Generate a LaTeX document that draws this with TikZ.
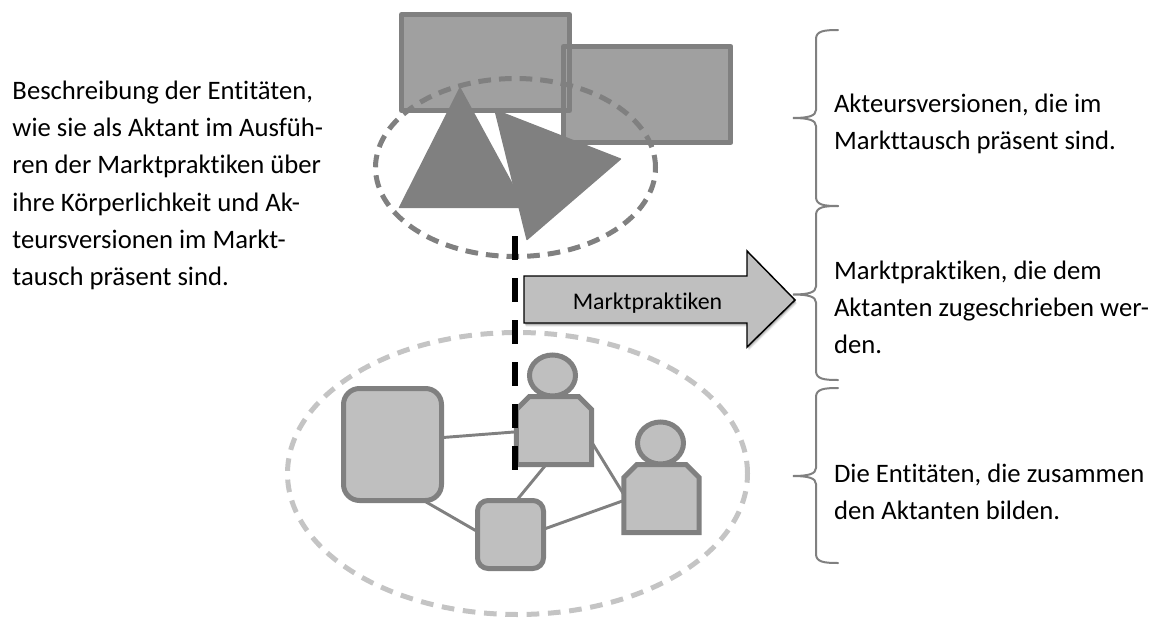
\documentclass[tikz,border=0pt]{standalone}
\usepackage{fontspec}
\setmainfont[Ligatures=NoCommon]{Carlito}
\usetikzlibrary{shapes.geometric,calc}
\definecolor{darkg}{HTML}{808080}
\definecolor{midg}{HTML}{A0A0A0}
\definecolor{lightg}{HTML}{BFBFBF}
\definecolor{paleg}{HTML}{C4C4C4}
\tikzset{
  topbox/.style={rectangle,draw=darkg,fill=midg,line width=3.75pt,line join=round,outer sep=0pt,inner sep=0pt},
  orbit/.style={ellipse,draw,fill=none,line width=3.75pt,outer sep=0pt,inner sep=0pt},
  roundbox/.style={rectangle,rounded corners=#1,draw=darkg,fill=lightg,line width=3.75pt,outer sep=0pt,inner sep=0pt},
  headshape/.style={ellipse,draw=darkg,fill=lightg,line width=3.75pt,outer sep=0pt,inner sep=0pt},
  bodyshape/.style={rectangle,outer sep=0pt,inner sep=0pt,minimum width=56.5pt,minimum height=51pt},
  bodyline/.style={draw=darkg,fill=lightg,line width=3.75pt,line join=miter},
  link/.style={draw=darkg,line width=2.2pt},
  bracepath/.style={draw=darkg,line width=1.5pt,line cap=round},
  txt/.style={anchor=north west,inner sep=0pt,outer sep=0pt,align=left,font=\fontsize{20}{28}\selectfont},
  pointer/.style={draw=black,line width=1.1pt,fill=lightg,line join=miter}
}
\newcommand\bracedraw[3]{% top, mid, bottom
  \path[bracepath] (838,#1) .. controls (824,#1) and (816,#1+1) .. (816,#1+9) -- (816,#2-8)
    .. controls (816,#2-2) and (808,#2) .. (793,#2) .. controls (808,#2) and (816,#2+2) .. (816,#2+8)
    -- (816,#3-9) .. controls (816,#3-1) and (824,#3) .. (838,#3);}
\newcommand\bodydraw[1]{%
  \path[bodyline] (#1.south west) -- (#1.south east) -- ($(#1.north east)+(0,13)$) -- ($(#1.north east)+(-13,0)$)
    -- ($(#1.north west)+(13,0)$) -- ($(#1.north west)+(0,13)$) -- cycle;}
\begin{document}
\begin{tikzpicture}[x=0.75pt,y=-0.75pt]
\useasboundingbox (0,0) rectangle (1161,618);
% top rectangles
\node[topbox,draw=none,minimum width=126pt,minimum height=72pt] (r1fill) at (485.5,62.5) {};
\node[topbox,minimum width=125.6pt,minimum height=72pt] (r2) at (647.25,94.5) {};
\node[topbox,fill=none,minimum width=126pt,minimum height=72pt] (r1) at (485.5,62.5) {};
% triangles
\fill[darkg,line join=round,draw=darkg,line width=1pt] (460,88) -- (399.5,207.5) -- (525,207.5) -- cycle;
\fill[darkg,line join=round,draw=darkg,line width=1pt] (495,110) -- (620.5,159) -- (527,239.5) -- cycle;
% top orbit
\node[orbit,draw=darkg,dash pattern=on 9.5pt off 6pt,minimum width=210pt,minimum height=133.5pt] (o1) at (515.5,167.5) {};
% lower orbit
\node[orbit,draw=paleg,dash pattern=on 9.5pt off 6.5pt,minimum width=345pt,minimum height=211.5pt] (o2) at (517.5,473.5) {};
% entity nodes
\node[roundbox=12pt,minimum width=73.5pt,minimum height=84pt] (big) at (392.5,444.5) {};
\node[roundbox=8pt,minimum width=49.5pt,minimum height=51pt] (small) at (510.5,534.5) {};
\node[bodyshape] (b1) at (554,430.5) {};
\node[bodyshape] (b2) at (661.5,498.5) {};
\bodydraw{b1}
\bodydraw{b2}
\node[headshape,minimum width=34.5pt,minimum height=30.75pt] (h1) at (552.5,375.5) {};
\node[headshape,minimum width=34.5pt,minimum height=31.5pt] (h2) at (660.5,443) {};
% links
\path[link] (big.8.1) -- (b1.182.3);
\path[link] (big.-61.4) -- (small.175.7);
\path[link] (small.80.8) -- (b1.-103.2);
\path[link] (small.9.5) -- (b2.183.8);
\path[link] (b1.-17) -- (b2.174.7);
% black dashed axis
\coordinate (axtop) at (515,236);
\coordinate (axbot) at (515,470);
\draw[black,line width=4.5pt,dash pattern=on 18pt off 13.5pt] (axtop) -- (axbot);
% arrow
\foreach \s/\o in {3.5/0.08,2.5/0.12,1.5/0.18}{
  \fill[black,opacity=\o,xshift=\s*0.4pt,yshift=-\s*0.75pt] (524,276) -- (747,276) -- (747,251) -- (795,300) -- (747,347) -- (747,323) -- (524,323) -- cycle;
}
\path[pointer] (524,276) -- (747,276) -- (747,251) -- (795,300) -- (747,347) -- (747,323) -- (524,323) -- cycle;
\node[anchor=base,inner sep=0pt,font=\fontsize{17.9}{20}\selectfont] (mp) at (647.5,309) {Marktpraktiken};
% braces
\bracedraw{30}{118}{206}
\bracedraw{206}{294.5}{380}
\bracedraw{388}{476}{563}
% text
\node[txt] (tl) at (12.5,80.5) {Beschreibung der Entitäten,\\wie sie als Aktant im Ausfüh-\\ren der Marktpraktiken über\\ihre Körperlichkeit und Ak-\\teursversionen im Markt-\\tausch präsent sind.};
\node[txt] (t1) at (834,93.5) {Akteursversionen, die im\\Markttausch präsent sind.};
\node[txt] (t2) at (834,260.5) {Marktpraktiken, die dem\\Aktanten zugeschrieben wer-\\den.};
\node[txt] (t3) at (834,463.5) {Die Entitäten, die zusammen\\den Aktanten bilden.};
\end{tikzpicture}
\end{document}
